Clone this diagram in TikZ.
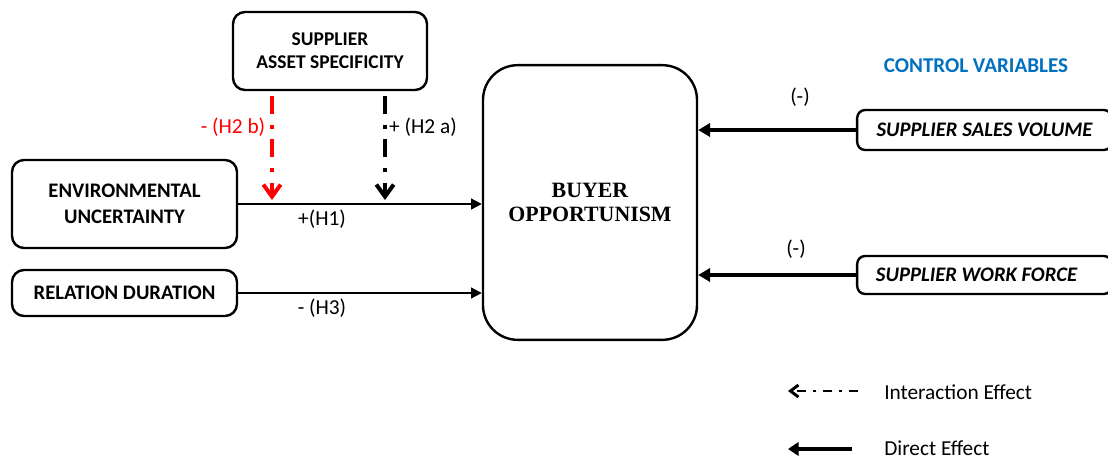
\documentclass[tikz,border=0pt]{standalone}
\usepackage{fontspec}
\setmainfont{Carlito}
\newfontfamily\timesfont{Liberation Serif}
\usepackage{tikz}
\usetikzlibrary{shapes}
\usetikzlibrary{arrows.meta}
\definecolor{ctrl_blue}{RGB}{0,112,192}
\definecolor{h2b_red}{RGB}{255,0,0}
\tikzset{
  boxnode/.style = {align=center, inner sep=0pt, text centered,
    draw=black, line width=1.8pt, rounded corners=9pt,
    font=\fontsize{15.5}{19.5}\selectfont\bfseries},% variable
  ctrl_node/.style = {boxnode, rounded corners=6pt,
    font=\fontsize{15.5}{19}\selectfont\bfseries\itshape},% control variable
  buyer_node/.style = {boxnode, rounded corners=26pt,
    font=\fontsize{16.4}{18}\selectfont\timesfont\bfseries},% dependent variable
  lbl/.style = {inner sep=0pt, font=\fontsize{16}{19}\selectfont},% hypothesis label
  direct/.style = {line width=1.5pt, -{Triangle[length=8pt, width=8pt]}},% direct effect
  direct_thick/.style = {line width=3pt, -{Triangle[length=9pt, width=10pt]}},% control effect
  interaction/.style = {line width=3pt, dash pattern=on 13.5pt off 8pt on 3pt off 8pt,
    -{Straight Barb[length=9pt, width=13pt, line width=3pt]}}% interaction effect
}
\begin{document}
\begin{tikzpicture}[x=0.75pt, y=-0.75pt]
  \useasboundingbox (0,0) rectangle (1108,461);
  % variables
  \node [boxnode, minimum width=145.5pt, minimum height=58.5pt,
    font=\fontsize{14.6}{17}\selectfont\bfseries] (asset) at (330,51) {SUPPLIER\\ASSET SPECIFICITY};
  \node [boxnode, minimum width=168.75pt, minimum height=66pt] (env) at (124.5,204) {ENVIRONMENTAL\\UNCERTAINTY};
  \node [boxnode, minimum width=168.75pt, minimum height=34.5pt] (rel) at (124.5,293) {RELATION DURATION};
  \node [buyer_node, minimum width=160.5pt, minimum height=206pt] (buyer) at (590,202.5) {BUYER\\OPPORTUNISM};
  \node [ctrl_node, minimum width=191pt, minimum height=30pt] (sales) at (984.5,130) {SUPPLIER SALES VOLUME};
  \node [ctrl_node, minimum width=191pt, minimum height=28.5pt] (work) at (984.5,275) {\hspace*{-12pt}SUPPLIER WORK FORCE};
  \node [lbl, font=\fontsize{15.8}{19}\selectfont\bfseries, text=ctrl_blue] (ctrl) at (976,66) {CONTROL VARIABLES};

  % effects
  \draw [direct] (env.east) -- (env.east -| buyer.west);
  \draw [direct] (rel.east) -- (rel.east -| buyer.west);
  \draw [direct_thick] (sales.west) -- (sales.west -| buyer.east);
  \draw [direct_thick] (work.west) -- (work.west -| buyer.east);
  \coordinate (h2b_end) at (272,200);
  \coordinate (h2a_end) at (385,200);
  \draw [interaction, h2b_red, dash phase=-3.5pt] (asset.south -| h2b_end) -- (h2b_end);
  \draw [interaction, dash phase=-3.5pt] (asset.south -| h2a_end) -- (h2a_end);

  % labels
  \node [lbl] (h1) at (322,219) {+(H1)};
  \node [lbl] (h3) at (322,308) {- (H3)};
  \node [lbl, text=h2b_red] (h2b) at (233,127) {- (H2 b)};
  \node [lbl] (h2a) at (423,127) {+ (H2 a)};
  \node [lbl] (sales_sign) at (800,97) {(-)};
  \node [lbl] (work_sign) at (796,249) {(-)};

  % legend
  \coordinate (leg_int_a) at (858,391);
  \coordinate (leg_int_b) at (788,391);
  \coordinate (leg_dir_a) at (852,449);
  \coordinate (leg_dir_b) at (788,449);
  \draw [line width=2.2pt, dash pattern=on 6.5pt off 5.5pt on 2pt off 5.5pt,
    -{Straight Barb[length=6pt, width=9pt, line width=2.2pt]}] (leg_int_a) -- (leg_int_b);
  \draw [line width=3.5pt, -{Triangle[length=8pt, width=10pt]}] (leg_dir_a) -- (leg_dir_b);
  \node [lbl, anchor=west] (leg_int) at (884,392) {Interaction Effect};
  \node [lbl, anchor=west] (leg_dir) at (884,448) {Direct Effect};
\end{tikzpicture}
\end{document}
